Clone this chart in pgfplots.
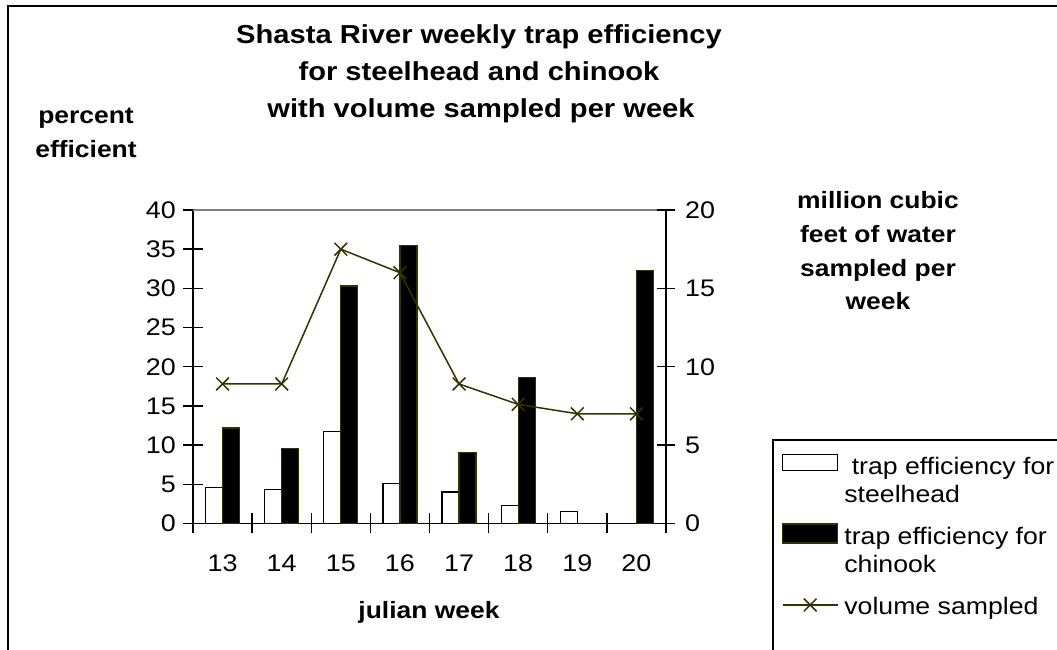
\documentclass[border=0pt]{standalone}
\usepackage{fontspec}
\setmainfont{Liberation Sans}[FakeStretch=1.12]
\usepackage{pgfplots}
\pgfplotsset{compat=1.18}
\definecolor{olivedk}{HTML}{333300}
\pgfplotsset{
  swatchA/.style={legend image code/.code={\path[draw=none,fill=none] (0pt,22pt) rectangle (0.1pt,-47.7pt);\draw[##1] (0pt,4.5pt) rectangle (55pt,20.5pt);}},
  swatchB/.style={legend image code/.code={\path[draw=none,fill=none] (0pt,22pt) rectangle (0.1pt,-47.7pt);\draw[##1] (0pt,1.5pt) rectangle (55pt,20.5pt);}},
  swatchL/.style={legend image code/.code={\path[draw=none,fill=none] (0pt,22pt) rectangle (0.1pt,-10pt);\draw[##1, mark repeat=2, mark phase=2] plot coordinates {(0pt,9.4pt) (27.5pt,9.4pt) (55pt,9.4pt)};}},
}
\begin{document}
\begin{tikzpicture}
\useasboundingbox (0pt,0pt) rectangle (1057pt,650pt);
% outer chart frame
\draw[line width=2pt] (8pt,-5pt) -- (8pt,644pt) -- (1070pt,644pt);
% titles
\node[anchor=base, inner sep=0pt, font=\fontsize{26}{30}\selectfont\bfseries] at (479pt,606.7pt) {Shasta River weekly trap efficiency};
\node[anchor=base, inner sep=0pt, font=\fontsize{26}{30}\selectfont\bfseries] at (479pt,569.7pt) {for steelhead and chinook};
\node[anchor=base, inner sep=0pt, font=\fontsize{26}{30}\selectfont\bfseries] at (481pt,532.7pt) {with volume sampled per week};
% left axis label
\node[anchor=base, inner sep=0pt, font=\fontsize{23.6}{28}\selectfont\bfseries] at (86pt,526pt) {percent};
\node[anchor=base, inner sep=0pt, font=\fontsize{23.6}{28}\selectfont\bfseries] at (86pt,492.7pt) {efficient};
% right axis label
\node[anchor=base, inner sep=0pt, font=\fontsize{23.6}{28}\selectfont\bfseries] at (878pt,441.7pt) {million cubic};
\node[anchor=base, inner sep=0pt, font=\fontsize{23.6}{28}\selectfont\bfseries] at (878pt,407.3pt) {feet of water};
\node[anchor=base, inner sep=0pt, font=\fontsize{23.6}{28}\selectfont\bfseries] at (878pt,373.3pt) {sampled per};
\node[anchor=base, inner sep=0pt, font=\fontsize{23.6}{28}\selectfont\bfseries] at (878pt,340pt) {week};
% x axis label
\node[anchor=base, inner sep=0pt, font=\fontsize{23.6}{28}\selectfont\bfseries] at (429pt,31pt) {julian week};
% legend frame
\draw[line width=1.4pt] (773pt,-5pt) -- (773pt,210pt) -- (1070pt,210pt);

\begin{axis}[
  at={(193pt,126.5pt)}, anchor=south west, scale only axis,
  width=473pt, height=313.5pt,
  xmin=-0.5, xmax=7.5, ymin=0, ymax=40,
  axis x line*=bottom, axis y line*=left,
  axis line style={-, line width=1.4pt, black},
  ybar=0pt, bar width=17pt,
  xtick={-0.5,0.5,1.5,2.5,3.5,4.5,5.5,6.5,7.5},
  xticklabels={{},{},{},{},{},{},{},{},{}},
  extra x ticks={0,1,2,3,4,5,6,7},
  extra x tick labels={13,14,15,16,17,18,19,20},
  extra x tick style={major tick length=0pt, xticklabel style={anchor=base, inner sep=0pt, yshift=-48.2pt}},
  ytick={0,5,...,40},
  tick align=center, major tick length=20pt,
  tick style={line width=1.4pt, black},
  yticklabel style={anchor=east, inner sep=0pt, xshift=-7pt},
  ticklabel style={font=\fontsize{24}{28}\selectfont},
  /pgf/number format/assume math mode=true,
  clip=false,
]
\addplot[draw=black, fill=white, line width=1.3pt] coordinates {(0,4.6) (1,4.3) (2,11.7) (3,5.1) (4,4.0) (5,2.3) (6,1.5)};
\addplot[draw=olivedk, fill=black, line width=1.3pt] coordinates {(0,12.2) (1,9.6) (2,30.3) (3,35.5) (4,9.1) (5,18.6) (7,32.3)};
\draw[gray, line width=1.3pt] (rel axis cs:0,1) -- (rel axis cs:1,1);
\end{axis}

\begin{axis}[
  at={(193pt,126.5pt)}, anchor=south west, scale only axis,
  width=473pt, height=313.5pt,
  xmin=-0.5, xmax=7.5, ymin=0, ymax=20,
  axis x line=none, axis y line*=right,
  axis line style={-, line width=1.4pt, black},
  ytick={0,5,...,20},
  tick align=center, major tick length=18pt,
  tick style={line width=1.4pt, black},
  yticklabel style={anchor=west, inner sep=0pt, xshift=10pt},
  ticklabel style={font=\fontsize{24}{28}\selectfont},
  /pgf/number format/assume math mode=true,
  clip=false,
  legend style={at={(1.2446,0.2258)}, anchor=north west, draw=none, fill=none,
    inner sep=0pt, row sep=0pt, column sep=6pt,
    nodes={inner sep=0pt, anchor=base west},
    font=\fontsize{23.8}{28}\selectfont},
]
\addlegendimage{draw=black, fill=white, line width=1.3pt, swatchA}
\addlegendentry{\vtop{\hbox{\strut\ trap efficiency for}\hbox{\strut steelhead}}}
\addlegendimage{draw=olivedk, fill=black, line width=1.3pt, swatchB}
\addlegendentry{\vtop{\hbox{\strut trap efficiency for}\hbox{\strut chinook}}}
\addplot[color=olivedk, line width=1.5pt, mark=x, mark size=9pt, swatchL]
  coordinates {(0,8.9) (1,8.9) (2,17.5) (3,16.0) (4,8.9) (5,7.6) (6,7.0) (7,7.0)};
\addlegendentry{\strut volume sampled}
\end{axis}
\end{tikzpicture}
\end{document}
